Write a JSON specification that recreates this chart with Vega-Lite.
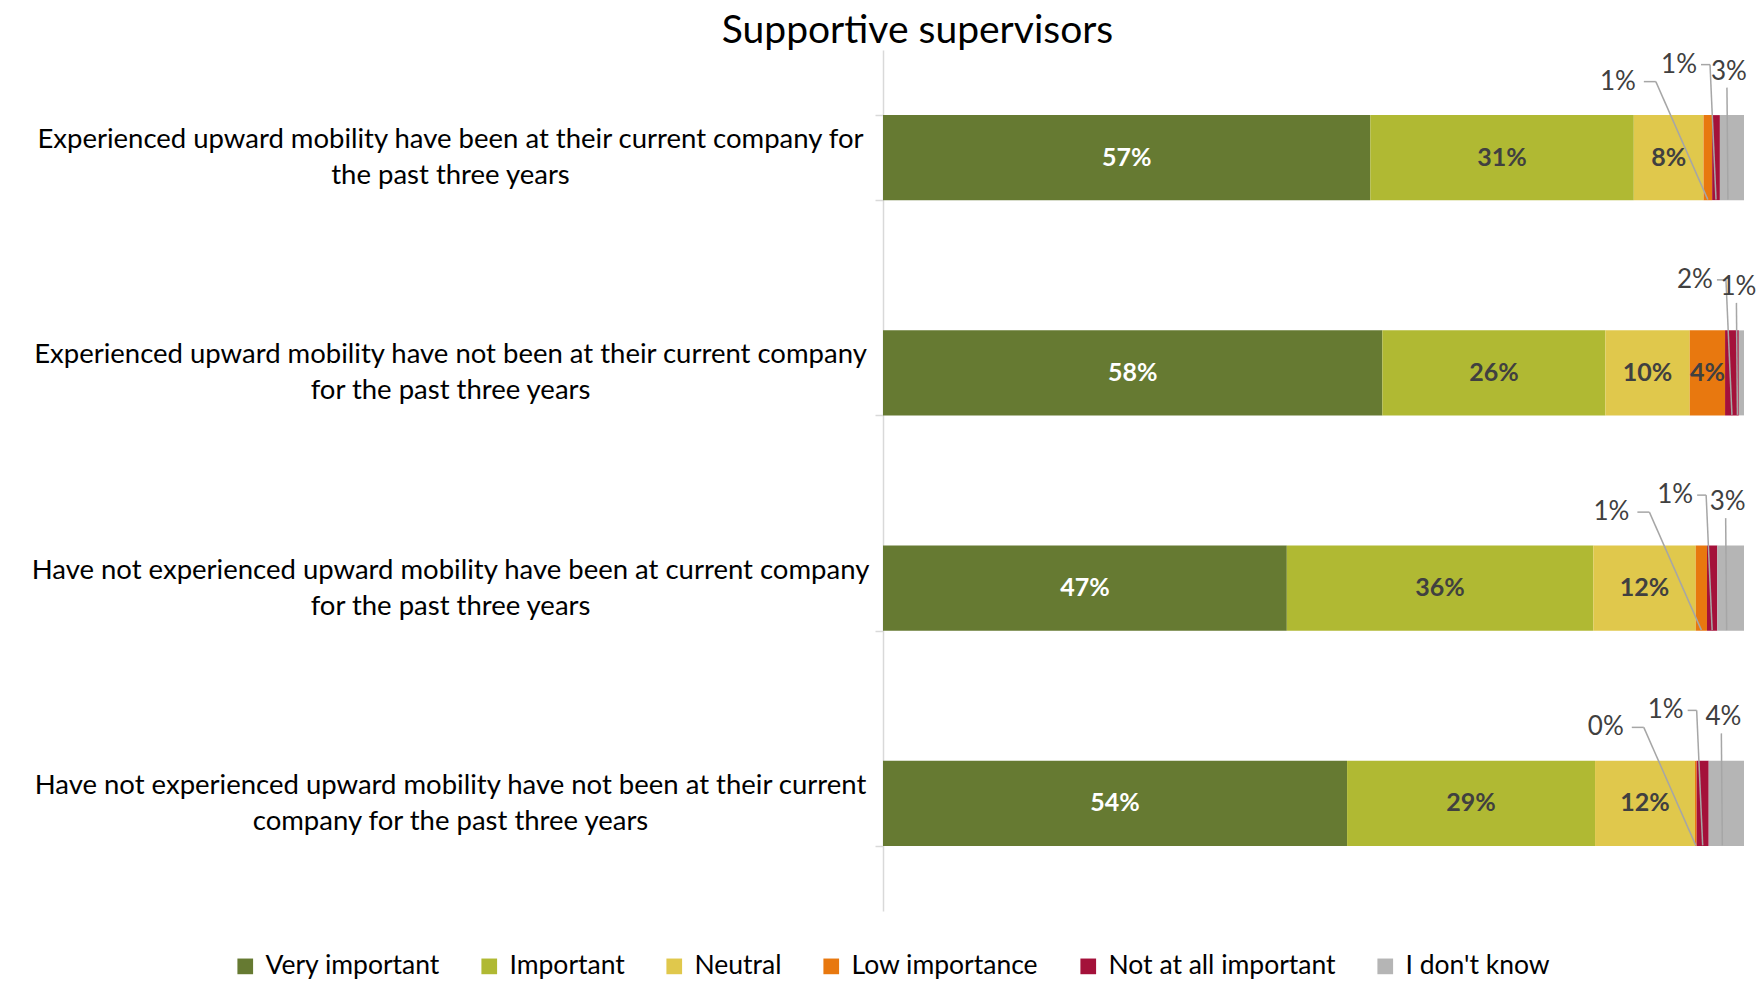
{
  "$schema": "https://vega.github.io/schema/vega-lite/v6.json",
  "autosize": {"type": "none"},
  "padding": {"left": 883, "top": 50, "right": 16, "bottom": 92},
  "width": 861,
  "height": 861,
  "config": {"view": {"stroke": null}, "font": "Lato"},
  "title": {"text": "Supportive supervisors", "fontSize": 39, "fontWeight": "normal", "color": "#000000", "anchor": "middle", "frame": "group", "dx": -396, "offset": 10, "dy": 56, "baseline": "alphabetic"},
  "data": {"values": [
    {"group": "Experienced upward mobility have been at their current company for|the past three years", "resp": "Very important", "ord": 1, "value": 56.6},
    {"group": "Experienced upward mobility have been at their current company for|the past three years", "resp": "Important", "ord": 2, "value": 30.6},
    {"group": "Experienced upward mobility have been at their current company for|the past three years", "resp": "Neutral", "ord": 3, "value": 8.1},
    {"group": "Experienced upward mobility have been at their current company for|the past three years", "resp": "Low importance", "ord": 4, "value": 1.0},
    {"group": "Experienced upward mobility have been at their current company for|the past three years", "resp": "Not at all important", "ord": 5, "value": 0.9},
    {"group": "Experienced upward mobility have been at their current company for|the past three years", "resp": "I don't know", "ord": 6, "value": 2.8},
    {"group": "Experienced upward mobility have not been at their current company|for the past three years", "resp": "Very important", "ord": 1, "value": 58.0},
    {"group": "Experienced upward mobility have not been at their current company|for the past three years", "resp": "Important", "ord": 2, "value": 25.9},
    {"group": "Experienced upward mobility have not been at their current company|for the past three years", "resp": "Neutral", "ord": 3, "value": 9.8},
    {"group": "Experienced upward mobility have not been at their current company|for the past three years", "resp": "Low importance", "ord": 4, "value": 4.1},
    {"group": "Experienced upward mobility have not been at their current company|for the past three years", "resp": "Not at all important", "ord": 5, "value": 1.6},
    {"group": "Experienced upward mobility have not been at their current company|for the past three years", "resp": "I don't know", "ord": 6, "value": 0.6},
    {"group": "Have not experienced upward mobility have been at current company|for the past three years", "resp": "Very important", "ord": 1, "value": 46.9},
    {"group": "Have not experienced upward mobility have been at current company|for the past three years", "resp": "Important", "ord": 2, "value": 35.6},
    {"group": "Have not experienced upward mobility have been at current company|for the past three years", "resp": "Neutral", "ord": 3, "value": 11.9},
    {"group": "Have not experienced upward mobility have been at current company|for the past three years", "resp": "Low importance", "ord": 4, "value": 1.3},
    {"group": "Have not experienced upward mobility have been at current company|for the past three years", "resp": "Not at all important", "ord": 5, "value": 1.2},
    {"group": "Have not experienced upward mobility have been at current company|for the past three years", "resp": "I don't know", "ord": 6, "value": 3.1},
    {"group": "Have not experienced upward mobility have not been at their current|company for the past three years", "resp": "Very important", "ord": 1, "value": 53.9},
    {"group": "Have not experienced upward mobility have not been at their current|company for the past three years", "resp": "Important", "ord": 2, "value": 28.8},
    {"group": "Have not experienced upward mobility have not been at their current|company for the past three years", "resp": "Neutral", "ord": 3, "value": 11.6},
    {"group": "Have not experienced upward mobility have not been at their current|company for the past three years", "resp": "Low importance", "ord": 4, "value": 0.2},
    {"group": "Have not experienced upward mobility have not been at their current|company for the past three years", "resp": "Not at all important", "ord": 5, "value": 1.4},
    {"group": "Have not experienced upward mobility have not been at their current|company for the past three years", "resp": "I don't know", "ord": 6, "value": 4.1}
  ]},
  "transform": [
    {"stack": "value", "groupby": ["group"], "sort": [{"field": "ord", "order": "ascending"}], "as": ["v0", "v1"]},
    {"calculate": "(datum.v0 + datum.v1) / 2", "as": "mid"},
    {"calculate": "round(datum.value) + '%'", "as": "lbl"}
  ],
  "encoding": {
    "y": {"field": "group", "type": "nominal", "sort": null, "title": null,
      "scale": {"paddingInner": 0.605, "paddingOuter": 0.3025},
      "axis": {"labelExpr": "split(datum.label, '|')", "labelAlign": "center", "labelBaseline": "middle", "labelPadding": 425, "labelOffset": -18, "labelFontSize": 27.5, "labelLineHeight": 36, "labelLimit": 1000, "labelColor": "#000000", "labelFont": "Lato", "domainColor": "#d9d9d9", "domainWidth": 1.5, "tickColor": "#d9d9d9", "tickSize": 8, "tickWidth": 1.5, "tickBand": "extent", "grid": false}}
  },
  "layer": [
    {
      "mark": {"type": "bar"},
      "encoding": {
        "x": {"field": "v0", "type": "quantitative", "scale": {"domain": [0, 100], "nice": false}, "axis": null},
        "x2": {"field": "v1"},
        "color": {"field": "resp", "type": "nominal", "sort": ["Very important", "Important", "Neutral", "Low importance", "Not at all important", "I don't know"],
          "scale": {"domain": ["Very important", "Important", "Neutral", "Low importance", "Not at all important", "I don't know"], "range": ["#667a32", "#b0b933", "#e0c84c", "#e8780f", "#a4113a", "#b5b5b5"]},
          "legend": {"title": null, "orient": "none", "direction": "horizontal", "columns": 6, "legendX": -651, "legendY": 903, "symbolType": "square", "symbolSize": 246, "symbolStrokeWidth": 0, "labelFontSize": 26.5, "labelColor": "#000000", "labelOffset": 7, "columnPadding": 36, "labelLimit": 0}}
      }
    },
    {
      "transform": [{"filter": "datum.value >= 3.5 && datum.resp !== \"I don't know\""}],
      "mark": {"type": "text", "fontSize": 25, "fontWeight": "bold", "baseline": "middle", "align": "center"},
      "encoding": {
        "x": {"field": "mid", "type": "quantitative"},
        "text": {"field": "lbl"},
        "color": {"condition": {"test": "datum.resp === 'Very important'", "value": "#ffffff"}, "value": "#404040"}
      }
    },
    {
      "transform": [{"filter": "datum.resp === 'Low importance' && datum.value < 3.5"}],
      "mark": {"type": "text", "fontSize": 26, "baseline": "middle", "align": "center", "dx": -90, "dy": -76, "color": "#404040"},
      "encoding": {"x": {"field": "mid", "type": "quantitative"}, "text": {"field": "lbl"}}
    },
    {
      "transform": [{"filter": "datum.resp === 'Low importance' && datum.value < 3.5"}],
      "mark": {"type": "rule", "color": "#a6a6a6", "strokeWidth": 1.5, "xOffset": -64, "yOffset": -76, "x2Offset": -52, "y2Offset": -76},
      "encoding": {"x": {"field": "mid", "type": "quantitative"}, "x2": {"field": "mid"}, "y2": {"field": "group"}}
    },
    {
      "transform": [{"filter": "datum.resp === 'Low importance' && datum.value < 3.5"}],
      "mark": {"type": "rule", "color": "#a6a6a6", "strokeWidth": 1.5, "xOffset": 0, "yOffset": 42, "x2Offset": -52, "y2Offset": -76},
      "encoding": {"x": {"field": "mid", "type": "quantitative"}, "x2": {"field": "mid"}, "y2": {"field": "group"}}
    },
    {
      "transform": [{"filter": "datum.resp === 'Not at all important'"}],
      "mark": {"type": "text", "fontSize": 26, "baseline": "middle", "align": "center", "dx": -37, "dy": -93, "color": "#404040"},
      "encoding": {"x": {"field": "mid", "type": "quantitative"}, "text": {"field": "lbl"}}
    },
    {
      "transform": [{"filter": "datum.resp === 'Not at all important'"}],
      "mark": {"type": "rule", "color": "#a6a6a6", "strokeWidth": 1.5, "xOffset": -15, "yOffset": -93, "x2Offset": -6, "y2Offset": -93},
      "encoding": {"x": {"field": "mid", "type": "quantitative"}, "x2": {"field": "mid"}, "y2": {"field": "group"}}
    },
    {
      "transform": [{"filter": "datum.resp === 'Not at all important'"}],
      "mark": {"type": "rule", "color": "#a6a6a6", "strokeWidth": 1.5, "xOffset": 0, "yOffset": 42, "x2Offset": -6, "y2Offset": -93},
      "encoding": {"x": {"field": "mid", "type": "quantitative"}, "x2": {"field": "mid"}, "y2": {"field": "group"}}
    },
    {
      "transform": [{"filter": "datum.resp === \"I don't know\""}],
      "mark": {"type": "text", "fontSize": 26, "baseline": "middle", "align": "center", "dx": -3, "dy": -86, "color": "#404040"},
      "encoding": {"x": {"field": "mid", "type": "quantitative"}, "text": {"field": "lbl"}}
    },
    {
      "transform": [{"filter": "datum.resp === \"I don't know\""}],
      "mark": {"type": "rule", "color": "#a6a6a6", "strokeWidth": 1.5, "xOffset": -5, "yOffset": -70, "x2Offset": -4, "y2Offset": 42},
      "encoding": {"x": {"field": "mid", "type": "quantitative"}, "x2": {"field": "mid"}, "y2": {"field": "group"}}
    }
  ]
}
